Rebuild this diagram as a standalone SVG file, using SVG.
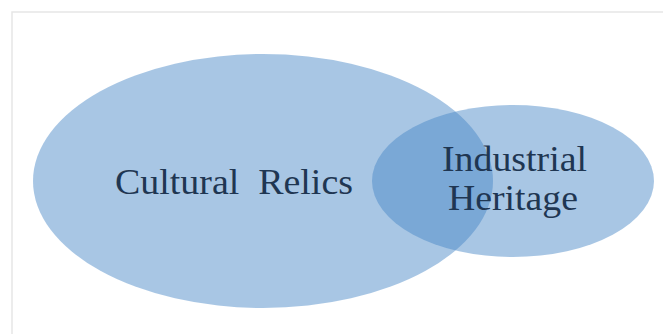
<svg xmlns="http://www.w3.org/2000/svg" width="663" height="334" viewBox="0 0 663 334">
  <style>
    .set { fill: rgb(70,134,198); fill-opacity: 0.47; }
    .lbl { font-family: "Liberation Serif", "Times New Roman", serif; font-size: 35px; fill: #1f3652; }
    .frame { stroke: #e6e6e6; stroke-width: 1.5; fill: none; }
  </style>
  <rect x="0" y="0" width="663" height="334" fill="#ffffff"/>
  <g id="frame">
    <path class="frame" d="M12,334 V12 H663"/>
  </g>
  <g id="connectors"></g>
  <g id="cultural-relics">
    <ellipse class="set" cx="263" cy="181" rx="230" ry="127"/>
    <text class="lbl" x="115" y="194" xml:space="preserve" textLength="238" lengthAdjust="spacingAndGlyphs">Cultural  Relics</text>
  </g>
  <g id="industrial-heritage">
    <ellipse class="set" cx="513" cy="181" rx="141" ry="76"/>
    <text class="lbl" x="442" y="171" textLength="145" lengthAdjust="spacingAndGlyphs">Industrial</text>
    <text class="lbl" x="448" y="210" textLength="130" lengthAdjust="spacingAndGlyphs">Heritage</text>
  </g>
</svg>
